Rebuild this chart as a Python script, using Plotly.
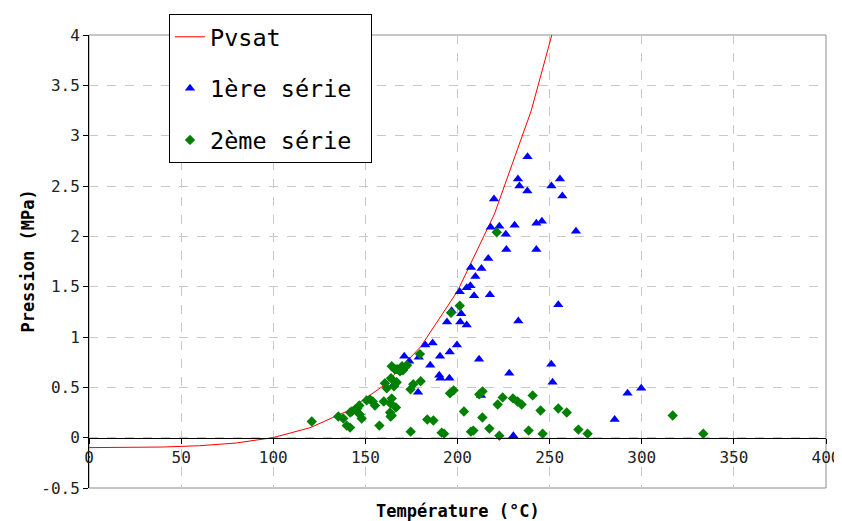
import plotly.graph_objects as go

# courbe de saturation (pression relative, MPa)
t_sat = [0, 20, 40, 60, 80, 100, 120, 140, 160, 180, 200, 220, 240, 260]
p_sat = [-0.099, -0.098, -0.093, -0.080, -0.053, 0.001, 0.099, 0.262,
         0.518, 0.903, 1.455, 2.220, 3.247, 4.592]

# 1ere serie
t_s1 = [238.0, 232.8, 233.6, 237.9, 255.6, 251.0, 256.9, 219.8, 218.0, 222.7,
        231.0, 226.2, 242.8, 245.8, 264.3, 226.5, 242.8, 216.7, 207.3, 213.0,
        209.7, 205.0, 207.0, 201.2, 209.0, 217.6, 254.7, 196.8, 202.0, 194.3,
        201.5, 205.0, 233.0, 182.5, 186.5, 199.7, 195.8, 190.5, 179.0, 171.1,
        173.8, 185.2, 211.7, 228.1, 250.9, 251.6, 190.1, 190.7, 195.6, 178.6,
        165.5, 212.8, 292.3, 299.7, 285.3, 230.3]
p_s1 = [2.79, 2.57, 2.50, 2.45, 2.57, 2.50, 2.40, 2.37, 2.09, 2.10,
        2.11, 2.02, 2.13, 2.15, 2.05, 1.87, 1.87, 1.78, 1.69, 1.68,
        1.60, 1.49, 1.51, 1.45, 1.41, 1.42, 1.32, 1.26, 1.23, 1.15,
        1.15, 1.12, 1.16, 0.92, 0.94, 0.92, 0.85, 0.81, 0.80, 0.81,
        0.76, 0.72, 0.78, 0.64, 0.73, 0.55, 0.62, 0.59, 0.59, 0.45,
        0.53, 0.42, 0.44, 0.49, 0.18, 0.02]

# 2eme serie
t_s2 = [120.9, 135.3, 138.0, 139.9, 141.7, 141.7, 142.6, 144.4, 145.6, 146.7,
        147.0, 148.0, 150.7, 152.5, 154.0, 155.2, 157.6, 160.0, 160.6, 161.6,
        163.4, 163.7, 164.3, 163.7, 164.3, 163.9, 165.5, 167.0, 166.6, 164.3,
        166.0, 167.2, 168.8, 170.4, 171.5, 172.6, 169.9, 174.5, 176.0, 174.6,
        179.6, 180.0, 183.6, 186.9, 191.4, 192.7, 195.9, 197.9, 196.5, 201.2,
        203.5, 207.3, 208.6, 211.8, 213.6, 213.5, 217.3, 221.8, 222.7, 224.5,
        221.3, 230.1, 232.6, 234.8, 238.6, 240.8, 245.1, 246.2, 254.7, 259.3,
        265.6, 270.6, 316.8, 333.4]
p_s2 = [0.16, 0.21, 0.19, 0.12, 0.10, 0.25, 0.26, 0.28, 0.29, 0.32,
        0.23, 0.19, 0.37, 0.38, 0.36, 0.32, 0.12, 0.36, 0.54, 0.49,
        0.25, 0.21, 0.22, 0.34, 0.39, 0.59, 0.51, 0.55, 0.30, 0.71,
        0.68, 0.68, 0.66, 0.67, 0.70, 0.72, 0.71, 0.48, 0.53, 0.06,
        0.83, 0.56, 0.18, 0.17, 0.05, 0.04, 0.44, 0.47, 1.24, 1.31,
        0.26, 0.06, 0.07, 0.43, 0.46, 0.20, 0.09, 0.33, 0.02, 0.40,
        2.04, 0.39, 0.36, 0.33, 0.07, 0.42, 0.27, 0.04, 0.29, 0.25,
        0.08, 0.04, 0.22, 0.04]

y_ticks = [-0.5, 0, 0.5, 1, 1.5, 2, 2.5, 3, 3.5, 4]
y_text = ['-0.5', '0', '0.5', '1', '1.5', '2', '2.5', '3', '3.5', '4']
x_ticks = [0, 50, 100, 150, 200, 250, 300, 350, 400]

mono = 'DejaVu Sans Mono'
nb = '\u00a0'

fig = go.Figure()
fig.add_trace(go.Scatter(x=t_sat, y=p_sat, mode='lines', name='Pvsat' + nb,
                         line=dict(color='#ff0000', width=1), legendgroup='a'))
fig.add_trace(go.Scatter(x=t_s1, y=p_s1, mode='markers', name='1ère série' + nb,
                         marker=dict(symbol='triangle-up', color='#0000ff', size=9),
                         legendgroup='b'))
fig.add_trace(go.Scatter(x=t_s2, y=p_s2, mode='markers', name='2ème série' + nb,
                         marker=dict(symbol='diamond', color='#008000', size=8),
                         legendgroup='c'))

# la page ajoute 8 px de marge autour de la figure
W, H = 834, 513
grid = '#c8c8c8'
fig.update_layout(
    width=W, height=H,
    margin=dict(l=81, r=16, t=27, b=33, autoexpand=False),
    paper_bgcolor='white', plot_bgcolor='white',
    font=dict(family=mono, color='#222222', size=16),
    showlegend=True,
    legend=dict(xref='container', yref='container', x=161 / W, y=1 - 6 / H,
                xanchor='left', yanchor='top',
                bgcolor='white', bordercolor='black', borderwidth=1,
                font=dict(family=mono, size=23.5, color='black'),
                tracegroupgap=18, itemwidth=30),
    xaxis=dict(range=[0, 400], tickvals=x_ticks, anchor='free', position=0.1104,
               showline=True, linecolor='black', linewidth=1,
               ticks='outside', ticklen=5, tickcolor='black',
               showgrid=True, gridcolor=grid, griddash='dash', zeroline=False),
    yaxis=dict(range=[-0.5, 4], tickvals=y_ticks, ticktext=y_text,
               showline=True, linecolor='black', linewidth=1,
               ticks='outside', ticklen=5, tickcolor='black',
               showgrid=True, gridcolor=grid, griddash='dash', zeroline=False),
    shapes=[dict(type='rect', xref='paper', yref='paper', x0=0, x1=1, y0=0, y1=1,
                 line=dict(color='#8c8c8c', width=1), layer='below')],
    annotations=[
        dict(text='<b>Température (°C)</b>', xref='paper', yref='paper',
             x=0.5, y=-0.05, xanchor='center', yanchor='middle', showarrow=False,
             font=dict(family=mono, size=17, color='black')),
        dict(text='<b>Pression (MPa)</b>', xref='paper', yref='paper',
             x=-0.084, y=0.5, xanchor='center', yanchor='middle', showarrow=False,
             textangle=-90, font=dict(family=mono, size=17, color='black')),
    ],
)

fig.write_html("out.html")
